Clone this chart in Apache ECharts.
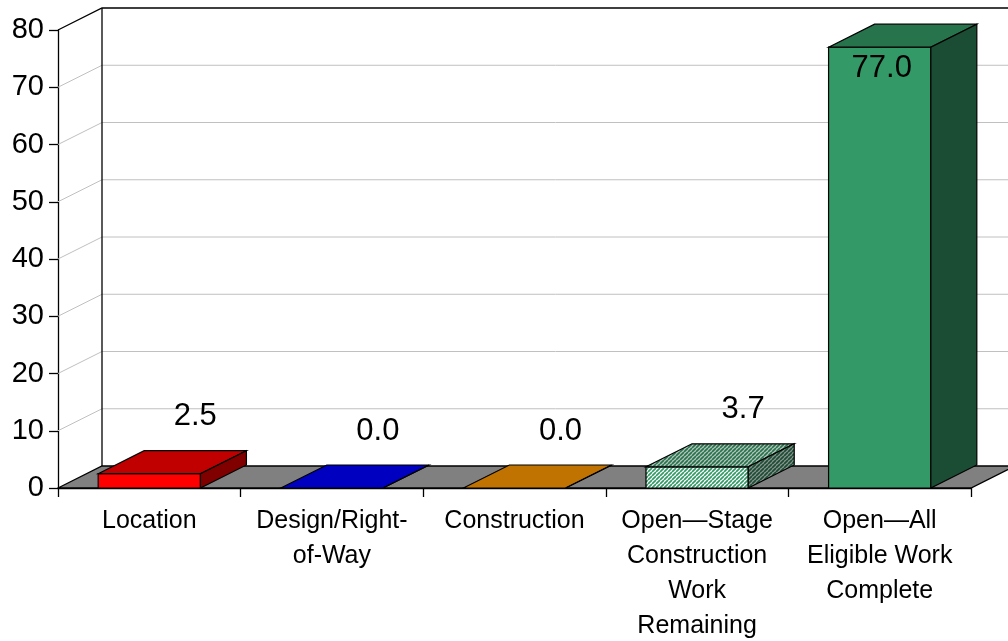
<!DOCTYPE html>
<html lang="en">
  <head>
    <meta charset="UTF-8" />
    <title>Project status</title>
    <style>
      html, body { margin: 0; padding: 0; background: #fff; }
      #main { width: 1008px; height: 641px; }
    </style>
  </head>
  <body>
    <div id="main"></div>
    <script src="https://cdn.jsdelivr.net/npm/echarts@6/dist/echarts.min.js"></script>
    <script>
      // data
      const categories = [
        "Location",
        "Design/Right-\nof-Way",
        "Construction",
        "Open\u2014Stage\nConstruction\nWork\nRemaining",
        "Open\u2014All\nEligible Work\nComplete",
      ];
      const values = [2.5, 0.0, 0.0, 3.7, 77.0];
      const yTicks = [0, 10, 20, 30, 40, 50, 60, 70, 80];

      // 3d look: depth of wall/floor and of the bars
      const DX = 44, DY = -22;
      const BX = 46, BY = -23;
      const FONT = "'Liberation Sans', Arial, sans-serif";

      function stripes(bg, fg) {
        const c = document.createElement("canvas");
        c.width = 4;
        c.height = 4;
        const g = c.getContext("2d");
        g.fillStyle = bg;
        g.fillRect(0, 0, 4, 4);
        g.strokeStyle = fg;
        g.lineWidth = 1.7;
        g.beginPath();
        [-4, 0, 4].forEach((k) => {
          g.moveTo(k, 4);
          g.lineTo(k + 4, 0);
        });
        g.stroke();
        return { image: c, repeat: "repeat" };
      }

      const frontColors = ["#FF0000", "#0000FF", "#FF9900", stripes("#FFFFFF", "#339966"), "#339966"];
      const topColors = ["#C00000", "#0000C0", "#C07300", stripes("#B8C4BC", "#26734C"), "#26734C"];
      const sideColors = ["#800000", "#000080", "#804D00", stripes("#8A948E", "#1A4D33"), "#1A4D33"];

      const myChart = echarts.init(document.getElementById("main"));

      function renderWall(params, api) {
        const bw = api.size([1, 0])[0];
        const x0 = api.coord([0, 0])[0] - bw / 2;
        const x1 = x0 + bw * categories.length;
        const yb = api.coord([0, yTicks[0]])[1];
        const yt = api.coord([0, yTicks[yTicks.length - 1]])[1];
        const children = [];
        yTicks.slice(1, -1).forEach((v) => {
          const y = api.coord([0, v])[1];
          children.push({
            type: "polyline",
            shape: { points: [[x0, y], [x0 + DX, y + DY], [x1 + DX, y + DY]] },
            style: { stroke: "#C0C0C0", lineWidth: 1, fill: null },
          });
        });
        children.push({
          type: "polyline",
          shape: { points: [[x0, yt], [x0 + DX, yt + DY], [x1 + DX, yt + DY]] },
          style: { stroke: "#000", lineWidth: 1.3, fill: null },
        });
        children.push({
          type: "line",
          shape: { x1: x0 + DX, y1: yt + DY, x2: x0 + DX, y2: yb + DY },
          style: { stroke: "#000", lineWidth: 1.3 },
        });
        children.push({
          type: "polygon",
          shape: { points: [[x0, yb], [x0 + DX, yb + DY], [x1 + DX, yb + DY], [x1, yb]] },
          style: { fill: "#808080", stroke: "#000", lineWidth: 1.3 },
        });
        return { type: "group", children };
      }

      function renderBar(params, api) {
        const i = api.value(0);
        const v = api.value(1);
        const bw = api.size([1, 0])[0];
        const w = bw * 0.56;
        const c = api.coord([i, 0]);
        const t = api.coord([i, v]);
        const xl = c[0] - w / 2, xr = c[0] + w / 2;
        const yb = c[1], yt = t[1];
        const top = api.coord([0, yTicks[yTicks.length - 1]])[1];
        const edge = { stroke: "#000", lineWidth: 1.2 };

        let lx = c[0] + BX, ly = yt + BY - 34;
        if (ly - 15 < top) {
          lx = c[0] + 2;
          ly = yt + 21;
        }
        return {
          type: "group",
          children: [
            {
              type: "polygon",
              shape: { points: [[xl, yb], [xr, yb], [xr, yt], [xl, yt]] },
              style: Object.assign({ fill: frontColors[i] }, edge),
            },
            {
              type: "polygon",
              shape: { points: [[xl, yt], [xl + BX, yt + BY], [xr + BX, yt + BY], [xr, yt]] },
              style: Object.assign({ fill: topColors[i] }, edge),
            },
            {
              type: "polygon",
              shape: { points: [[xr, yb], [xr, yt], [xr + BX, yt + BY], [xr + BX, yb + BY]] },
              style: Object.assign({ fill: sideColors[i] }, edge),
            },
            {
              type: "text",
              x: lx,
              y: ly,
              style: {
                text: v.toFixed(1),
                fontSize: 31,
                fontFamily: FONT,
                fill: "#000",
                align: "center",
                verticalAlign: "middle",
              },
            },
          ],
        };
      }

      const option = {
        animation: false,
        backgroundColor: "#fff",
        grid: {
          left: 58,
          top: 30,
          width: 913,
          height: 458,
          containLabel: false,
          outerBoundsMode: "none",
        },
        xAxis: {
          type: "category",
          data: categories,
          boundaryGap: true,
          axisLine: { lineStyle: { color: "#000", width: 1.3 } },
          axisTick: { show: true, length: 9, lineStyle: { color: "#000", width: 1.3 } },
          axisLabel: {
            interval: 0,
            color: "#000",
            fontSize: 25,
            lineHeight: 35,
            margin: 16,
            fontFamily: FONT,
          },
          splitLine: { show: false },
        },
        yAxis: {
          type: "value",
          min: yTicks[0],
          max: yTicks[yTicks.length - 1],
          interval: yTicks[1] - yTicks[0],
          axisLine: { show: true, lineStyle: { color: "#000", width: 1.3 } },
          axisTick: { show: true, length: 9, lineStyle: { color: "#000", width: 1.3 } },
          axisLabel: { color: "#000", fontSize: 29, margin: 14, fontFamily: FONT },
          splitLine: { show: false },
        },
        series: [
          {
            type: "custom",
            clip: false,
            silent: true,
            z: 1,
            data: [[0, 0]],
            renderItem: renderWall,
          },
          {
            type: "custom",
            clip: false,
            z: 3,
            data: values.map((v, i) => [i, v]),
            renderItem: renderBar,
          },
        ],
      };
      myChart.setOption(option);
    </script>
  </body>
</html>
